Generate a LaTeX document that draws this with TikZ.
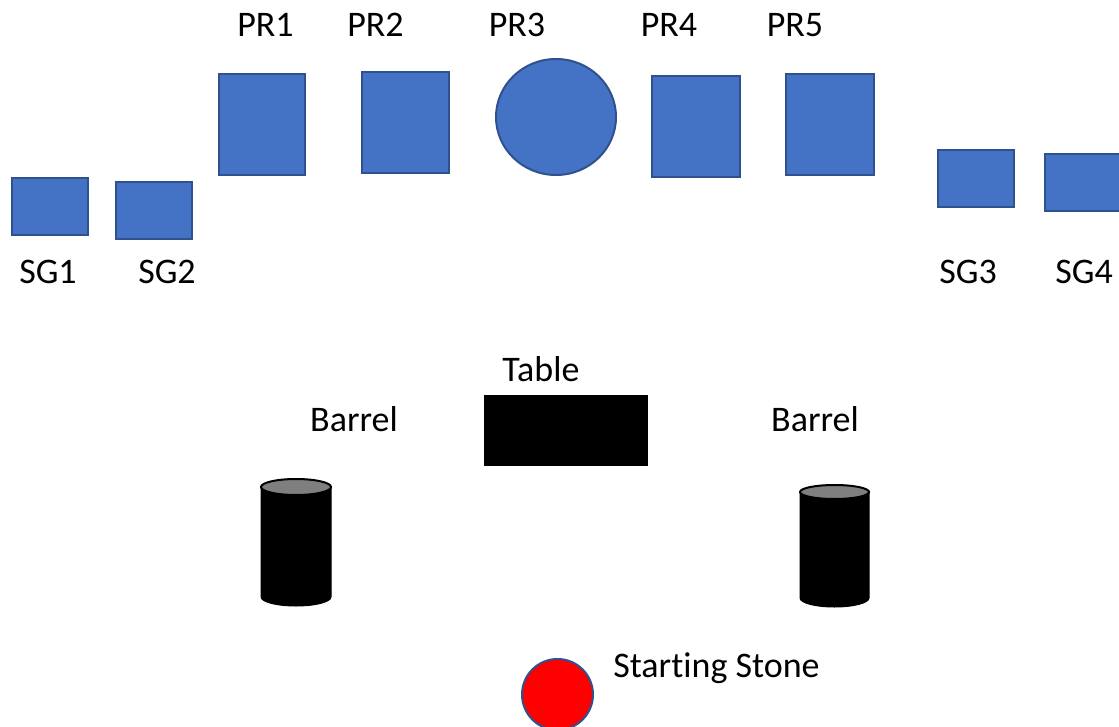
\documentclass[tikz,border=0pt]{standalone}
\usepackage{fontspec}
\setmainfont[Ligatures=NoCommon]{Carlito}
\usetikzlibrary{shapes.geometric}
\begin{document}
\begin{tikzpicture}[x=1pt,y=-1pt,
  blk/.style={draw=blueedge,fill=bluefill,line width=2pt,inner sep=0pt},
  lbl/.style={anchor=base,inner sep=0pt,font=\fontsize{36}{43}\selectfont},
  barrelbody/.style={fill=black,draw=black,line width=1pt},
  barreltop/.style={fill=barrelgray,draw=black,line width=2pt}]
\definecolor{bluefill}{HTML}{4472C4}
\definecolor{blueedge}{HTML}{2F528F}
\definecolor{barrelgray}{HTML}{7F7F7F}
\useasboundingbox (0,0) rectangle (1119,727);
\clip (0,0) rectangle (1119,727);
% squares
\node[blk,minimum width=76pt,minimum height=57pt] (sg1) at (49.5,207) {};
\node[blk,minimum width=76pt,minimum height=57pt] (sg2) at (153.5,211) {};
\node[blk,minimum width=86pt,minimum height=101pt] (pr1) at (261.5,125) {};
\node[blk,minimum width=87pt,minimum height=101pt] (pr2) at (405,123) {};
\node[blk,ellipse,minimum width=120pt,minimum height=116pt] (pr3) at (556,117) {};
\node[blk,minimum width=88pt,minimum height=101pt] (pr4) at (695.5,127) {};
\node[blk,minimum width=88pt,minimum height=101pt] (pr5) at (829.5,125) {};
\node[blk,minimum width=76pt,minimum height=57pt] (sg3) at (975.5,179) {};
\node[blk,minimum width=80pt,minimum height=57pt] (sg4) at (1085,183) {};
% labels
\node[lbl] (tpr1) at (265.5,37) {PR1};
\node[lbl] (tpr2) at (375.5,37) {PR2};
\node[lbl] (tpr3) at (517,37) {PR3};
\node[lbl] (tpr4) at (669,37) {PR4};
\node[lbl] (tpr5) at (795,37) {PR5};
\node[lbl] (tsg1) at (48,284) {SG1};
\node[lbl] (tsg2) at (167,284) {SG2};
\node[lbl] (tsg3) at (968,284) {SG3};
\node[lbl] (tsg4) at (1084,284) {SG4};
\node[lbl] (ttable) at (541,381) {Table};
\node[lbl] (tbarrel1) at (354,431) {Barrel};
\node[lbl] (tbarrel2) at (815,431) {Barrel};
\node[lbl] (tstone) at (716.5,677) {Start\kern0pt ing Stone};
% table
\node[fill=black,inner sep=0pt,minimum width=164pt,minimum height=71pt] (table) at (566,430.5) {};
% barrels
\fill[barrelbody] (261,487) -- (261,597) arc[start angle=180,end angle=0,x radius=35,y radius=9] -- (331,487) -- cycle;
\draw[barreltop] (296,487) ellipse[x radius=35,y radius=8];
\fill[barrelbody] (800,492) -- (800,598) arc[start angle=180,end angle=0,x radius=34.5,y radius=9] -- (869,492) -- cycle;
\draw[barreltop] (834.5,492) ellipse[x radius=34.5,y radius=7];
% starting stone
\node[circle,fill=red,draw=blueedge,line width=2pt,inner sep=0pt,minimum size=71pt] (stone) at (557.5,694.5) {};
\end{tikzpicture}
\end{document}
